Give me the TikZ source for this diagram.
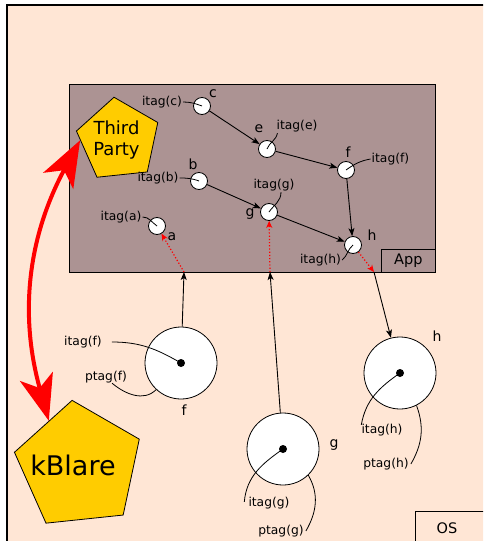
\documentclass[tikz,border=0pt]{standalone}
\usepackage{fontspec}
\setmainfont{DejaVu Sans}
\usetikzlibrary{shapes,arrows,positioning,calc,arrows.meta}

\definecolor{osback}{HTML}{FFE6D5}
\definecolor{appback}{HTML}{AC9393}
\definecolor{pentfill}{HTML}{FFCC00}

\begin{document}
\begin{tikzpicture}[x=1pt,y=-1pt,
    obj/.style={circle,draw,fill=white,line width=0.8pt,minimum size=17pt,inner sep=0pt},
    bigobj/.style={circle,draw,fill=white,line width=0.8pt,minimum size=72pt,inner sep=0pt},
    tagtxt/.style={font=\fontsize{12.3}{14}\selectfont,inner sep=1pt},
    letter/.style={font=\fontsize{14}{16}\selectfont,inner sep=0pt},
    tagline/.style={line width=0.8pt},
    flow/.style={line width=0.9pt,-{Stealth[length=8pt,width=6pt,inset=2pt]}},
    leak/.style={red,dotted,line width=1.2pt,-{Stealth[length=7pt,width=6pt,inset=2pt]}},
    pent/.style={regular polygon,regular polygon sides=5,draw,fill=pentfill,
        line width=0.8pt,shape border rotate=6,inner sep=0pt}]

    \useasboundingbox (0,0) rectangle (483,541);
    \clip (0,0) rectangle (483,541);

    % OS and App areas
    \draw [fill=osback,line width=1.2pt] (7,5) rectangle (520,580);
    \node [draw,line width=0.8pt,minimum width=90pt,minimum height=50pt,anchor=north west] (oslbl) at (415,511) {};
    \node [font=\fontsize{14.5}{16}\selectfont] (ostxt) at (447,528) {OS};
    \node [draw,fill=appback,line width=0.8pt,minimum width=366pt,minimum height=188pt,
        anchor=north west] (app) at (69,84) {};
    \node [draw,line width=0.8pt,minimum width=54pt,minimum height=23pt,anchor=south east,
        font=\fontsize{14.5}{16}\selectfont] (applbl) at (app.south east) {App};

    % Pentagons
    \node [pent,minimum size=86pt] (third) at (118.5,140) {};
    \node [align=center,font=\fontsize{18}{21}\selectfont] (thirdtxt) at (116.5,140) {Third\\Party};
    \node [pent,minimum size=132pt] (kblare) at (79,466) {};
    \node [font=\fontsize{27}{30}\selectfont] (kblaretxt) at (73,465) {kBlare};

    % Objects inside the App
    \node [obj] (c) at (202,106) {};
    \node [obj] (e) at (267,149) {};
    \node [obj] (f) at (346,170) {};
    \node [obj] (b) at (199,181) {};
    \node [obj] (g) at (269,212) {};
    \node [obj] (a) at (157,226) {};
    \node [obj] (h) at (353,245) {};

    \node [letter] (lc) at (213,94) {c};
    \node [letter] (le) at (259,129) {e};
    \node [letter] (lf) at (348,152) {f};
    \node [letter] (lb) at (193,164) {b};
    \node [letter] (lg) at (250,214) {g};
    \node [letter] (la) at (172,237) {a};
    \node [letter] (lh) at (372,235) {h};

    % itags
    \node [tagtxt] (tc) at (162,102) {itag(c)};
    \node [tagtxt] (te) at (297,126) {itag(e)};
    \node [tagtxt] (tf) at (390.5,159) {itag(f)};
    \node [tagtxt] (tb) at (158,178) {itag(b)};
    \node [tagtxt] (tg) at (274,185) {itag(g)};
    \node [tagtxt] (ta) at (121,217) {itag(a)};
    \node [tagtxt] (th) at (320.5,260) {itag(h)};

    \draw [tagline] (tc.east) to[out=0,in=160] (c.center);
    \draw [tagline] ($(te.south west)+(2,0)$) to[out=-100,in=70] (e.center);
    \draw [tagline] (tf.west) to[out=190,in=35] (f.center);
    \draw [tagline] (tb.east) to[out=0,in=160] (b.center);
    \draw [tagline] ($(tg.south)+(7,0)$) to[out=-90,in=55] (g.center);
    \draw [tagline] (ta.east) to[out=0,in=145] (a.center);
    \draw [tagline] (th.east) to[out=40,in=220] (h.center);

    % Flows inside the App
    \draw [flow] (c) -- (e);
    \draw [flow] (e) -- (f);
    \draw [flow] (f) -- (h);
    \draw [flow] (b) -- (g);
    \draw [flow] (g) -- (h);

    % Processes outside
    \node [bigobj] (bf) at (181,363) {};
    \node [bigobj] (bg) at (283,449) {};
    \node [bigobj] (bh) at (400,373) {};
    \fill (bf.center) circle (4pt);
    \fill (bg.center) circle (4pt);
    \fill (bh.center) circle (4pt);

    \node [letter] (lbf) at (184,410) {f};
    \node [letter] (lbg) at (334,445) {g};
    \node [letter] (lbh) at (437,336) {h};

    \node [tagtxt] (tbf) at (83,342) {itag(f)};
    \node [tagtxt] (pbf) at (106,377) {ptag(f)};
    \node [tagtxt] (tbg) at (269,503) {itag(g)};
    \node [tagtxt] (pbg) at (281,531) {ptag(g)};
    \node [tagtxt] (tbh) at (382,430) {itag(h)};
    \node [tagtxt] (pbh) at (386,464) {ptag(h)};

    \draw [tagline] ($(tbf.east)+(9,0)$) to[out=0,in=150] (bf.center);
    \draw [tagline] ($(pbf.south)+(6,-1)$) to[out=-40,in=225] (bf.227);
    \draw [tagline] ($(tbg.north west)+(-3,6)$) to[out=85,in=215] (bg.center);
    \draw [tagline] ($(pbg.east)+(1,0)$) to[out=60,in=-60] (bg.-46);
    \draw [tagline] ($(tbh.north west)+(1,2)$) to[out=80,in=215] (bh.center);
    \draw [tagline] ($(pbh.east)+(1,0)$) to[out=60,in=-70] (bh.-63);

    % Ports on the App border
    \coordinate (fport) at (184,272);
    \coordinate (gport) at (270,272);
    \coordinate (hport) at (374,272);

    \draw [flow] (bf) -- (fport);
    \draw [leak] (fport) -- (a);
    \draw [flow] (bg) -- (gport);
    \draw [leak] (gport) -- (g);
    \draw [leak] (h) -- (hport);
    \draw [flow] (hport) -- (bh);

    % Third Party <-> kBlare
    \draw [red,line width=4pt,{Stealth[length=46pt,width=34pt,inset=12pt]}-{Stealth[length=46pt,width=34pt,inset=12pt]}]
        ($(third.corner 2)!0.2!(third.corner 3)$) to[bend right=22] ($(kblare.corner 1)!0.4!(kblare.corner 2)$);
\end{tikzpicture}
\end{document}
